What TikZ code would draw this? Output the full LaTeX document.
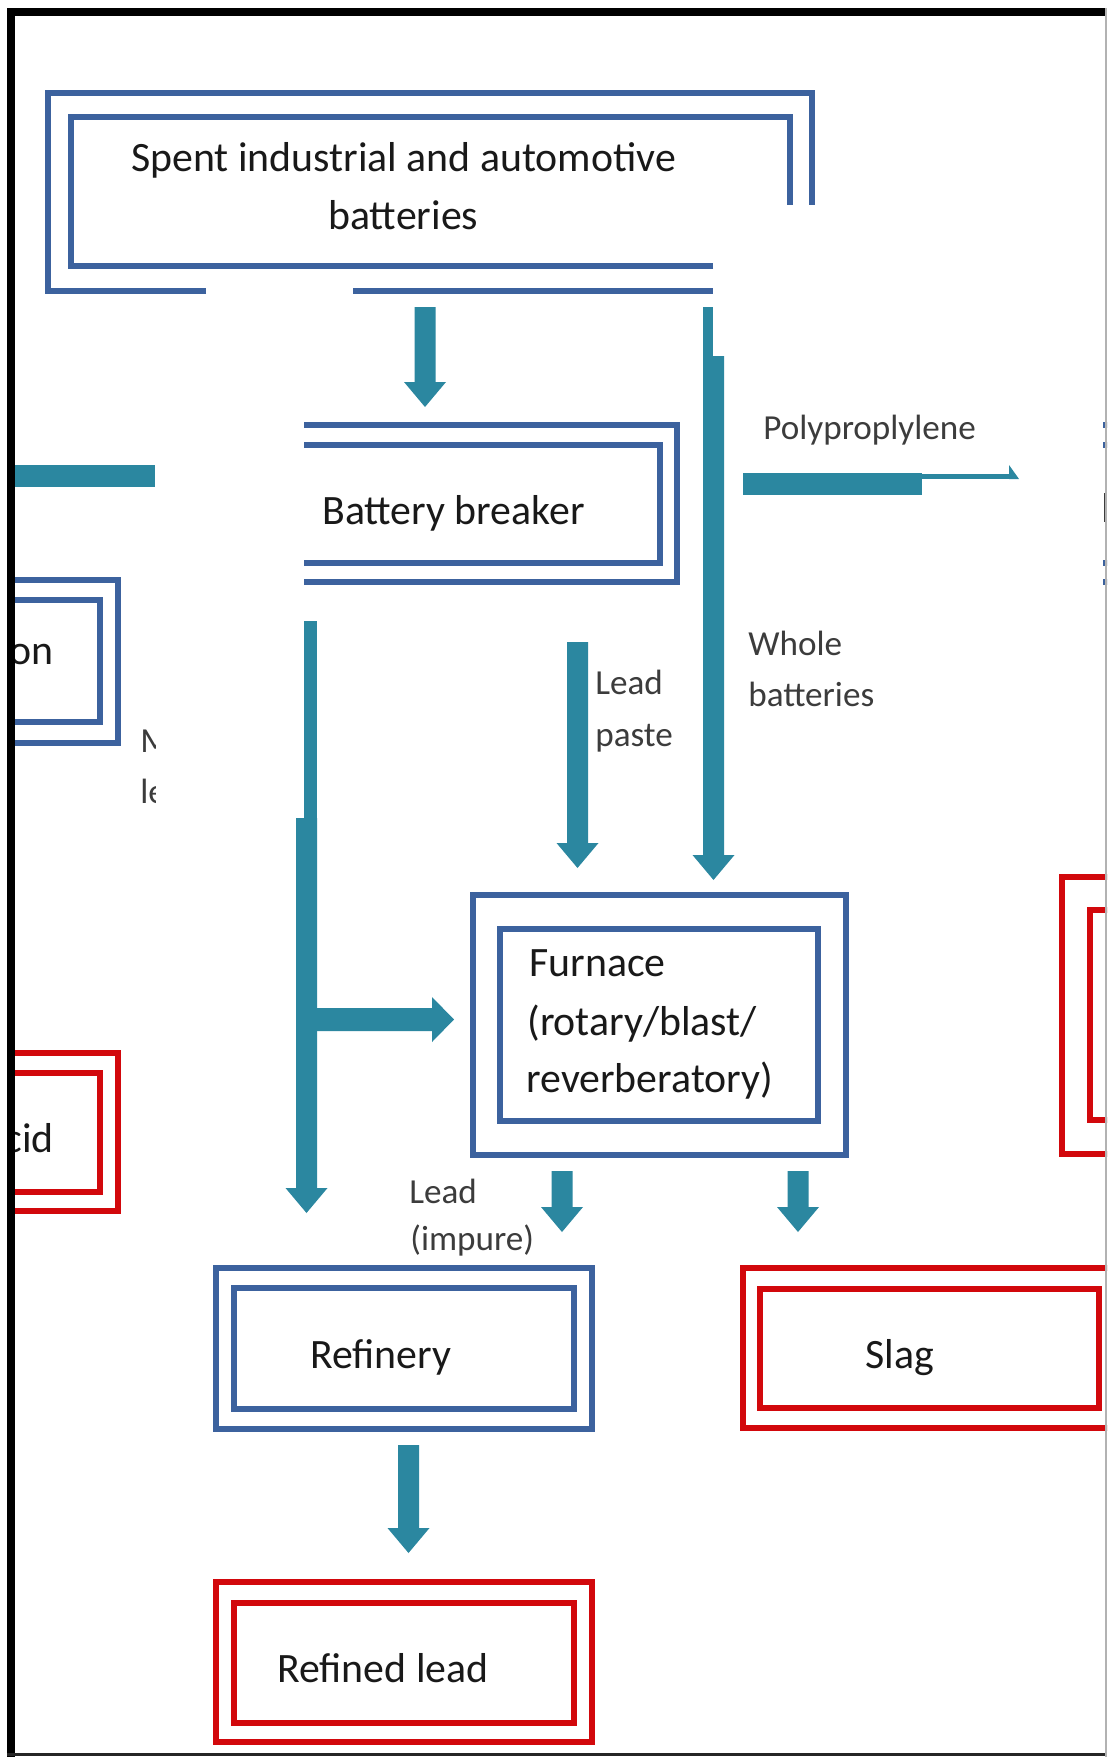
\documentclass[tikz,border=0pt]{standalone}
\usepackage{fontspec}
\setmainfont{Carlito}
\definecolor{boxblue}{RGB}{60,98,158}
\definecolor{boxred}{RGB}{210,8,12}
\definecolor{arrteal}{RGB}{43,135,160}
\definecolor{labgray}{RGB}{60,60,60}
\tikzset{
 bl/.style={draw=boxblue, line width=3.2pt},
 rd/.style={draw=boxred, line width=3.2pt},
 flow/.style={fill=arrteal},
 maintext/.style={inner sep=0pt, anchor=base west, text=black!90, font=\fontsize{23.8pt}{28pt}\selectfont},
 labtext/.style={inner sep=0pt, anchor=base west, text=labgray, font=\fontsize{20pt}{24pt}\selectfont},
}
\newcommand\flowdown[3]{%
 \fill[flow] ({#1-10.5},#2) -- ({#1+10.5},#2) -- ({#1+10.5},{#3-25}) -- ({#1+21},{#3-25}) -- (#1,#3) -- ({#1-21},{#3-25}) -- ({#1-10.5},{#3-25}) -- cycle;}
\begin{document}
\begin{tikzpicture}[x=0.02cm,y=-0.02cm]
\useasboundingbox (0,0) rectangle (1107,1757);
\clip (0,0) rectangle (1107,1757);
\fill[white] (0,0) rectangle (1107,1757);

% top box
\draw[bl] (206,291) -- (48,291) -- (48,93) -- (812,93) -- (812,205);
\draw[bl] (353,291) -- (713,291);
\draw[bl] (713,266) -- (71,266) -- (71,117) -- (790,117) -- (790,205);
\node[maintext] (spent) at (131,172) {Spent industrial and automotive};
\node[maintext] (spent2) at (328,230) {batteries};

% battery breaker (open left)
\draw[bl] (304,425) -- (677,425) -- (677,582) -- (304,582);
\draw[bl] (304,445) -- (660,445) -- (660,563) -- (304,563);
\node[maintext] (breaker) at (322,524) {Battery breaker};

% right blue box fragment
\draw[bl] (1103,425) -- (1110,425);
\draw[bl] (1103,445) -- (1110,445);
\draw[bl] (1103,563) -- (1110,563);
\draw[bl] (1103,582) -- (1110,582);
\fill[labgray] (1104,493) rectangle (1107,522);

% left fragments
\draw[bl] (12,580) -- (118,580) -- (118,743) -- (12,743);
\draw[bl] (12,600) -- (100,600) -- (100,722) -- (12,722);
\node[maintext, anchor=base east] (onfrag) at (54,664) {on};
\draw[rd] (12,1053) -- (118,1053) -- (118,1211) -- (12,1211);
\draw[rd] (12,1073) -- (100,1073) -- (100,1192) -- (12,1192);
\node[maintext, anchor=base east] (cidfrag) at (54,1152) {cid};
\fill[flow] (15,465) rectangle (155,487);
\begin{scope}
\clip (130,700) rectangle (155,820);
\node[labtext] (mfrag) at (140,752) {M};
\node[labtext] (lfrag) at (140,803) {le};
\end{scope}

% furnace
\draw[bl] (473,895) rectangle (846,1155);
\draw[bl] (500,929) rectangle (818,1121);
\node[maintext] (furn1) at (529,976) {Furnace};
\node[maintext] (furn2) at (527,1035) {(rotary/blast/};
\node[maintext] (furn3) at (526,1092) {reverberatory)};

% refinery
\draw[bl] (216,1268) rectangle (592,1429);
\draw[bl] (234,1288) rectangle (574,1409);
\node[maintext] (refinery) at (310,1368) {Refinery};

% refined lead
\draw[rd] (216,1582) rectangle (592,1742);
\draw[rd] (234,1603) rectangle (574,1723);
\node[maintext] (refined) at (277,1682) {Refined lead};

% slag
\draw[rd] (1112,1268) -- (743,1268) -- (743,1428) -- (1112,1428);
\draw[rd] (760,1289) rectangle (1099,1408);
\node[maintext] (slag) at (865,1368) {Slag};

% right red box fragment
\draw[rd] (1112,877) -- (1062,877) -- (1062,1154) -- (1112,1154);
\draw[rd] (1112,910) -- (1090,910) -- (1090,1120) -- (1112,1120);

% arrows
\flowdown{425}{307}{407}
\fill[flow] (703,307) rectangle (713,356);
\flowdown{713.5}{356}{880}
\flowdown{577.5}{642}{868}
\fill[flow] (304,621) rectangle (317,818);
\flowdown{306.5}{818}{1213}
\fill[flow] (306,1008) -- (432,1008) -- (432,997) -- (454,1019.5) -- (432,1042) -- (432,1031) -- (306,1031) -- cycle;
\flowdown{562}{1171}{1232}
\flowdown{798}{1171}{1232}
\flowdown{408.5}{1445}{1553}
\fill[flow] (743,473) rectangle (922,495);
\fill[flow] (920,474) rectangle (1012,479);
\fill[flow] (1009,465) -- (1019,479) -- (1009,479) -- cycle;

% labels
\node[labtext] (poly) at (763,439) {Polyproplylene};
\node[labtext] (lp1) at (595,694) {Lead};
\node[labtext] (lp2) at (595,746) {paste};
\node[labtext] (wb1) at (748,655) {Whole};
\node[labtext] (wb2) at (748,706) {batteries};
\node[labtext] (li1) at (409,1203) {Lead};
\node[labtext] (li2) at (410,1250) {(impure)};

% frame
\fill[white] (0,0) rectangle (7,1757);
\fill[black] (7,8) rectangle (1107,16);
\fill[black] (7,8) rectangle (15,1757);
\fill[black!85] (7,1753) rectangle (1107,1756);
\draw[gray!60, line width=0.8pt] (1106,8) -- (1106,1757);
\end{tikzpicture}
\end{document}
